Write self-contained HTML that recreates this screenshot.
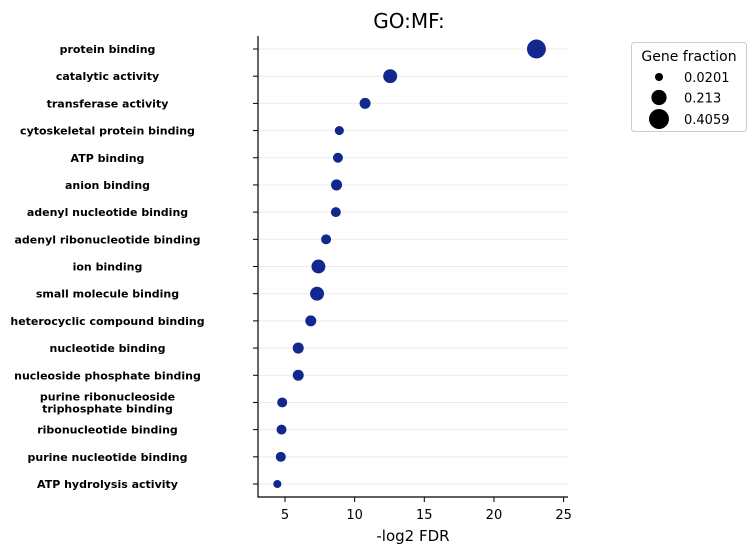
<!DOCTYPE html>
<html><head><meta charset="utf-8"><style>
body{margin:0;background:#fff;font-family:"Liberation Sans","DejaVu Sans",sans-serif}
svg text{font-family:"DejaVu Sans","Liberation Sans",sans-serif}
</style></head><body>
<svg id="c" width="756" height="552" xmlns="http://www.w3.org/2000/svg"></svg>
<script>
const terms=["protein binding","catalytic activity","transferase activity","cytoskeletal protein binding","ATP binding","anion binding","adenyl nucleotide binding","adenyl ribonucleotide binding","ion binding","small molecule binding","heterocyclic compound binding","nucleotide binding","nucleoside phosphate binding","purine ribonucleoside\ntriphosphate binding","ribonucleotide binding","purine nucleotide binding","ATP hydrolysis activity"];
const fdr=[23.05,12.55,10.75,8.9,8.8,8.7,8.65,7.95,7.4,7.3,6.85,5.95,5.95,4.8,4.75,4.7,4.45];
const frac=[0.36,0.17,0.085,0.04,0.06,0.085,0.06,0.06,0.17,0.17,0.085,0.085,0.085,0.06,0.06,0.06,0.02];
const xTicks=[5,10,15,20,25];
const legendVals=[0.0201,0.213,0.4059];
const NS="http://www.w3.org/2000/svg",svg=document.getElementById('c');
function el(t,a,txt){const e=document.createElementNS(NS,t);for(const k in a)e.setAttribute(k,a[k]);if(txt!=null)e.textContent=txt;svg.appendChild(e);return e;}
const xs=v=>285+(v-5)*13.93;
const ys=i=>49+i*(484-49)/(terms.length-1);
const rs=f=>Math.sqrt(12+215*f);
let t=el('text',{x:409,y:28,'text-anchor':'middle','font-size':20,fill:'#000'},'GO:MF:');


terms.forEach((n,i)=>{
 const y=ys(i);
 let g=el('line',{x1:258,x2:568,y1:y,y2:y,stroke:'#ebebeb','stroke-width':1});
 
 
 el('line',{x1:253,x2:258,y1:y,y2:y,stroke:'#000'});
 const parts=n.split('\n');
 parts.forEach((p,j)=>{
  let l=el('text',{x:107.5,y:y+4+(j-(parts.length-1)/2)*12,'text-anchor':'middle','font-size':11,'font-weight':'bold',fill:'#000'},p);
  
  
 });
});
terms.forEach((n,i)=>{
 let c=el('circle',{cx:xs(fdr[i]),cy:ys(i),r:rs(frac[i]),fill:'#13288f'});
 
 
});
let ax=el('line',{x1:258,x2:258,y1:36,y2:497.5,stroke:'#000','stroke-width':1.2});


let bx=el('line',{x1:257.5,x2:568,y1:497,y2:497,stroke:'#000','stroke-width':1.2});


xTicks.forEach(v=>{
 el('line',{x1:xs(v),x2:xs(v),y1:497,y2:502,stroke:'#000'});
 let l=el('text',{x:xs(v),y:519,'text-anchor':'middle','font-size':13,fill:'#000'},String(v));
 
 
});
let xt=el('text',{x:413,y:541,'text-anchor':'middle','font-size':15,fill:'#000'},'-log2 FDR');


let lb=el('rect',{x:631.5,y:42.5,width:115,height:89,rx:3,fill:'#fff',stroke:'#ccc'});


let lt=el('text',{x:689,y:61,'text-anchor':'middle','font-size':14,fill:'#000'},'Gene fraction');


const lys=[77,97.5,119];
legendVals.forEach((v,i)=>{
 let c=el('circle',{cx:659,cy:lys[i],r:rs(v),fill:'#000'});
 
 
 let l=el('text',{x:684,y:lys[i]+5,'font-size':13,fill:'#000'},String(v));
 
 
});
</script>
</body></html>
